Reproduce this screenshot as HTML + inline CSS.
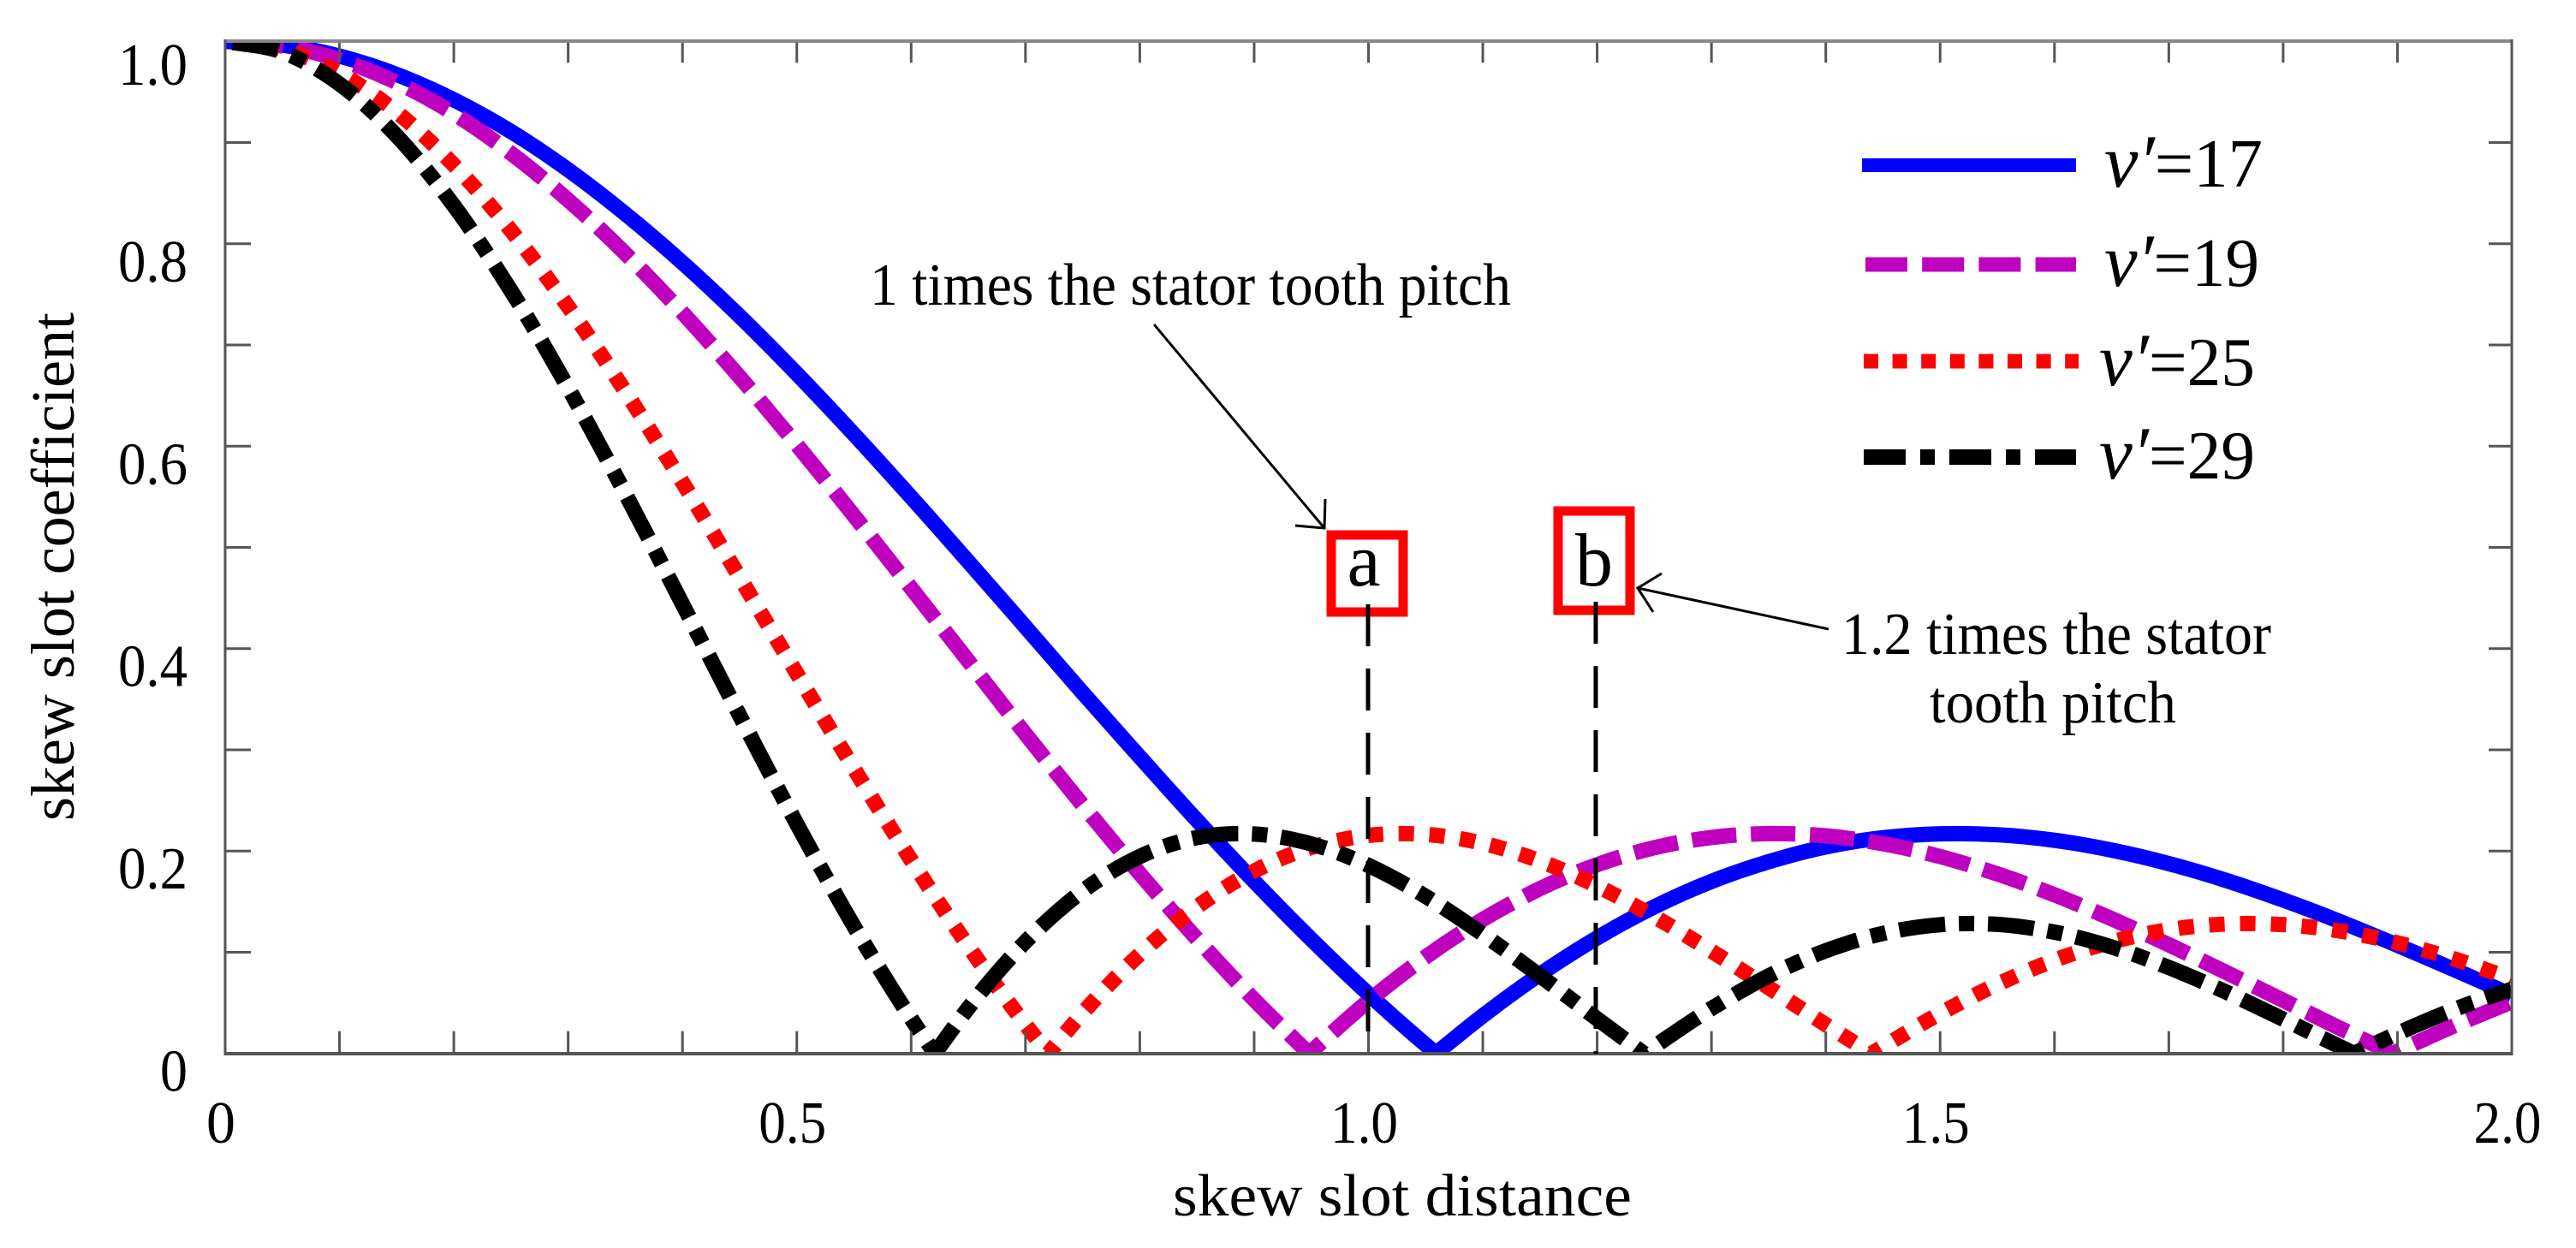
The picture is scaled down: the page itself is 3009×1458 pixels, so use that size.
<!DOCTYPE html>
<html lang="en">
<head>
<meta charset="utf-8">
<title>Skew slot coefficient versus skew slot distance</title>
<style>
html,body{margin:0;padding:0;background:#fff;}
svg{display:block;}
text{font-family:"Liberation Serif","DejaVu Serif",serif;fill:#000;}
</style>
</head>
<body>
<svg id="chart" xmlns="http://www.w3.org/2000/svg" width="3009" height="1458" viewBox="0 0 3009 1458">
  <defs>
    <clipPath id="plot-clip"><rect x="263" y="48" width="2671" height="1183"/></clipPath>
  </defs>
  <rect x="0" y="0" width="3009" height="1458" fill="#fff"/>
  <g id="curves" clip-path="url(#plot-clip)"></g>
  <g id="ticks"></g>
  <g>
    <line x1="262" y1="48" x2="2935" y2="48" stroke="#888" stroke-width="4"/>
    <line x1="263" y1="46" x2="263" y2="1233" stroke="#555" stroke-width="3"/>
    <line x1="2934" y1="46" x2="2934" y2="1233" stroke="#555" stroke-width="3"/>
    <line x1="262" y1="1231" x2="2935" y2="1231" stroke="#555" stroke-width="4"/>
  </g>
  <g id="tick-labels"></g>
  <text x="1370" y="1420" font-size="70" textLength="536" lengthAdjust="spacingAndGlyphs">skew slot distance</text>
  <text transform="translate(86,959) rotate(-90)" font-size="72" textLength="594" lengthAdjust="spacingAndGlyphs">skew slot coefficient</text>

  <g>
    <line x1="2175" y1="193" x2="2425" y2="193" stroke="#0000ff" stroke-width="16"/>
    <text x="2458" y="218" font-size="80" textLength="185" lengthAdjust="spacingAndGlyphs"><tspan font-style="italic" font-size="88">v′</tspan>=17</text>
    <line x1="2179" y1="309" x2="2425" y2="309" stroke="#bf00bf" stroke-width="17" stroke-dasharray="49 17.2"/>
    <text x="2458" y="334" font-size="80" textLength="181" lengthAdjust="spacingAndGlyphs"><tspan font-style="italic" font-size="88">v′</tspan>=19</text>
    <line x1="2177" y1="422" x2="2428" y2="422" stroke="#ff0000" stroke-width="17" stroke-dasharray="17 16.6"/>
    <text x="2452" y="450" font-size="80" textLength="182" lengthAdjust="spacingAndGlyphs"><tspan font-style="italic" font-size="88">v′</tspan>=25</text>
    <line x1="2177" y1="534" x2="2425" y2="534" stroke="#000" stroke-width="18" stroke-dasharray="49 17 17 17"/>
    <text x="2452" y="559" font-size="80" textLength="182" lengthAdjust="spacingAndGlyphs"><tspan font-style="italic" font-size="88">v′</tspan>=29</text>
  </g>

  <g>
    <rect x="1555" y="625" width="84" height="90" fill="#fff" stroke="#ff0000" stroke-width="11"/>
    <text x="1593" y="684" font-size="88" text-anchor="middle">a</text>
    <line x1="1598" y1="706" x2="1598" y2="1231" stroke="#000" stroke-width="5" stroke-dasharray="49 26"/>
    <text x="1016" y="356" font-size="70" textLength="749" lengthAdjust="spacingAndGlyphs">1 times the stator tooth pitch</text>
    <path d="M1348 379 L1547 617 M1548 583 L1547 617 L1513 614" fill="none" stroke="#000" stroke-width="3"/>
  </g>
  <g>
    <rect x="1820" y="597" width="84" height="116" fill="#fff" stroke="#ff0000" stroke-width="11"/>
    <text x="1862" y="684" font-size="88" text-anchor="middle">b</text>
    <line x1="1864" y1="703" x2="1864" y2="1231" stroke="#000" stroke-width="5" stroke-dasharray="49 26"/>
    <text x="2151" y="764" font-size="70" textLength="502" lengthAdjust="spacingAndGlyphs">1.2 times the stator</text>
    <text x="2254" y="844" font-size="70" textLength="288" lengthAdjust="spacingAndGlyphs">tooth pitch</text>
    <path d="M2136 735 L1913 687 M1941 670 L1913 687 L1931 715" fill="none" stroke="#000" stroke-width="3"/>
  </g>
</svg>
<script>
const xMinorTicks = [0,0.1,0.2,0.3,0.4,0.5,0.6,0.7,0.8,0.9,1.0,1.1,1.2,1.3,1.4,1.5,1.6,1.7,1.8,1.9,2.0];
const yMinorTicks = [0,0.1,0.2,0.3,0.4,0.5,0.6,0.7,0.8,0.9,1.0];
const xTickValues = [0,0.5,1.0,1.5,2.0];
const xTickLabels = ["0","0.5","1.0","1.5","2.0"];
const yTickValues = [0,0.2,0.4,0.6,0.8,1.0];
const yTickLabels = ["0","0.2","0.4","0.6","0.8","1.0"];

const v17X = [0,0.05,0.1,0.15,0.2,0.25,0.3,0.35,0.4,0.45,0.5,0.55,0.6,0.65,0.7,0.75,0.8,0.85,0.9,0.95,1.0,1.05,1.059,1.1,1.15,1.2,1.25,1.3,1.35,1.4,1.45,1.5,1.55,1.6,1.65,1.7,1.75,1.8,1.85,1.9,1.95,2.0];
const v17Y = [1,0.9963,0.9854,0.9673,0.9422,0.9109,0.8731,0.8296,0.7813,0.7284,0.6715,0.6117,0.5496,0.4859,0.4214,0.3564,0.2929,0.2303,0.1701,0.1127,0.0588,0.0086,0,0.0372,0.0782,0.1142,0.1449,0.17,0.1894,0.2041,0.2131,0.217,0.2161,0.2106,0.2009,0.1876,0.171,0.1516,0.1302,0.1069,0.0826,0.0578];

const v19X = [0,0.05,0.1,0.15,0.2,0.25,0.3,0.35,0.4,0.45,0.5,0.55,0.6,0.65,0.7,0.75,0.8,0.85,0.9,0.948,1.0,1.05,1.1,1.15,1.2,1.25,1.3,1.35,1.4,1.45,1.5,1.55,1.6,1.65,1.7,1.75,1.8,1.85,1.896,1.95,2.0];
const v19Y = [1,0.9954,0.9818,0.9594,0.9285,0.8894,0.8432,0.7904,0.7318,0.6684,0.6013,0.5314,0.4598,0.3878,0.3157,0.2454,0.1776,0.1132,0.0531,0,0.0518,0.0953,0.1324,0.1628,0.1865,0.2032,0.2134,0.2172,0.215,0.2072,0.1945,0.1774,0.1567,0.1331,0.1074,0.0802,0.0525,0.0247,0,0.0276,0.051];

const v25X = [0,0.05,0.1,0.15,0.2,0.25,0.3,0.35,0.4,0.45,0.5,0.55,0.6,0.65,0.7,0.72,0.75,0.8,0.85,0.9,0.95,1.0,1.05,1.1,1.15,1.2,1.25,1.3,1.35,1.4,1.44,1.5,1.55,1.6,1.65,1.7,1.75,1.8,1.85,1.9,1.95,2.0];
const v25Y = [1,0.9921,0.9686,0.9301,0.8778,0.8131,0.7379,0.6541,0.5643,0.4705,0.3755,0.2815,0.191,0.106,0.0285,0,0.0399,0.098,0.1449,0.1801,0.2035,0.2154,0.2164,0.2076,0.1901,0.1654,0.1352,0.1011,0.065,0.0284,0,0.0395,0.0683,0.0921,0.1102,0.1222,0.1279,0.1273,0.1209,0.1093,0.0932,0.0737];

const v29X = [0,0.05,0.1,0.15,0.2,0.25,0.3,0.35,0.4,0.45,0.5,0.55,0.6,0.6207,0.65,0.7,0.75,0.8,0.85,0.9,0.95,1.0,1.05,1.1,1.15,1.2,1.241,1.3,1.35,1.4,1.45,1.5,1.55,1.6,1.65,1.7,1.75,1.8,1.85,1.862,1.9,1.95,2.0];
const v29Y = [1,0.9894,0.9579,0.9067,0.8377,0.7536,0.6577,0.5532,0.444,0.3339,0.2267,0.1258,0.0344,0,0.0449,0.1103,0.1604,0.1946,0.2132,0.2168,0.207,0.1857,0.1552,0.1178,0.0767,0.0342,0,0.0444,0.0765,0.1015,0.1186,0.1272,0.1275,0.1198,0.1052,0.0849,0.0607,0.0339,0.0065,0,0.0198,0.0436,0.0635];

const SVG_NS = "http://www.w3.org/2000/svg";
const AXIS = {left:263, right:2934, top:48.3, bottom:1230.7, xMax:2, yMax:1};
function xScale(v){ return AXIS.left + (v / AXIS.xMax) * (AXIS.right - AXIS.left); }
function yScale(v){ return AXIS.bottom - (v / AXIS.yMax) * (AXIS.bottom - AXIS.top); }

function make(tag, attrs){
  const el = document.createElementNS(SVG_NS, tag);
  for (const k in attrs) el.setAttribute(k, attrs[k]);
  return el;
}

/* Smooth path through the data; tangents break at interior zero crossings (cusps). */
function smoothPath(xs, ys){
  const px = xs.map(xScale);
  const py = ys.map(yScale);
  const last = px.length - 1;
  function isCusp(i){ return i > 0 && i < last && ys[i] === 0; }
  function tangent(i, side){
    if (i === 0 || i === last || isCusp(i)) {
      const j = side > 0 ? Math.min(i + 1, last) : Math.max(i - 1, 0);
      return [(px[j] - px[i]) * side / 2, (py[j] - py[i]) * side / 2];
    }
    const h1 = px[i] - px[i - 1];
    const h2 = px[i + 1] - px[i];
    const s1 = (py[i] - py[i - 1]) / h1;
    const s2 = (py[i + 1] - py[i]) / h2;
    const m = (s1 * h2 + s2 * h1) / (h1 + h2);
    return [1, m];
  }
  let d = "M" + px[0].toFixed(1) + " " + py[0].toFixed(1);
  for (let i = 0; i < last; i++) {
    const h = (px[i + 1] - px[i]) / 3;
    const t0 = tangent(i, 1);
    const t1 = tangent(i + 1, -1);
    const m0 = t0[1] / t0[0];
    const m1 = t1[1] / t1[0];
    d += " C" + (px[i] + h).toFixed(1) + " " + (py[i] + m0 * h).toFixed(1) + " " +
         (px[i + 1] - h).toFixed(1) + " " + (py[i + 1] - m1 * h).toFixed(1) + " " +
         px[i + 1].toFixed(1) + " " + py[i + 1].toFixed(1);
  }
  return d;
}

const curves = document.getElementById("curves");
function drawCurve(xs, ys, name, color, width, dash, offset){
  const el = make("path", {d: smoothPath(xs, ys), fill: "none", stroke: color, "stroke-width": width, "stroke-linejoin": "round"});
  if (dash) {
    el.setAttribute("stroke-dasharray", dash);
    el.setAttribute("stroke-dashoffset", offset);
  }
  
  
  curves.appendChild(el);
}
drawCurve(v17X, v17Y, "curve-v17", "#0000ff", 18, null, 0);
drawCurve(v19X, v19Y, "curve-v19", "#bf00bf", 18, "52 17", -16);
drawCurve(v25X, v25Y, "curve-v25", "#ff0000", 18, "18 18", -10);
drawCurve(v29X, v29Y, "curve-v29", "#000000", 18, "54 16 18 16", -9);

const ticks = document.getElementById("ticks");
function drawTick(x1, y1, x2, y2, name){
  const el = make("line", {x1: x1, y1: y1, x2: x2, y2: y2, stroke: "#555", "stroke-width": 3});
  
  
  ticks.appendChild(el);
}
xMinorTicks.forEach(function(v){
  const x = xScale(v);
  drawTick(x, AXIS.bottom, x, AXIS.bottom - 26, "x-tick-bottom");
  drawTick(x, AXIS.top, x, AXIS.top + 25, "x-tick-top");
});
yMinorTicks.forEach(function(v){
  const y = yScale(v);
  drawTick(AXIS.left, y, AXIS.left + 30, y, "y-tick-left");
  drawTick(AXIS.right, y, AXIS.right - 27, y, "y-tick-right");
});

const labels = document.getElementById("tick-labels");
xTickValues.forEach(function(v, i){
  const text = xTickLabels[i];
  const w = text.length === 1 ? 34 : 79;
  const el = make("text", {x: xScale(v) - 5 - w / 2, y: 1335, "font-size": 70, textLength: w, lengthAdjust: "spacingAndGlyphs"});
  el.textContent = text;
  
  
  labels.appendChild(el);
});
yTickValues.forEach(function(v, i){
  const text = yTickLabels[i];
  const w = text.length === 1 ? 32 : 81;
  const el = make("text", {x: 219 - w, y: Math.max(yScale(v) + 44, 99), "font-size": 70, textLength: w, lengthAdjust: "spacingAndGlyphs"});
  el.textContent = text;
  
  
  labels.appendChild(el);
});
</script>
</body>
</html>
